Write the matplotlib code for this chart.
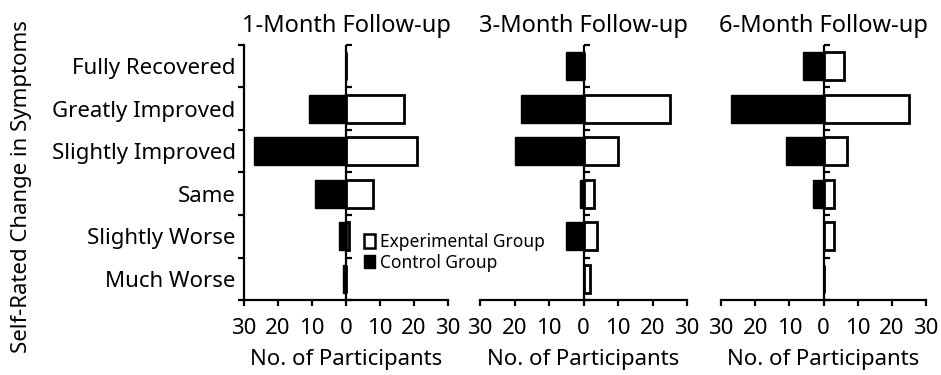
import numpy as np
import matplotlib.pyplot as plt
from matplotlib.patches import Patch

plt.rcParams['font.family'] = ['Noto Sans', 'DejaVu Sans']

# Response categories (top to bottom)
categories = ['Fully Recovered', 'Greatly Improved', 'Slightly Improved',
              'Same', 'Slightly Worse', 'Much Worse']
panels = ['1-Month Follow-up', '3-Month Follow-up', '6-Month Follow-up']

# Participant counts per category
experimental_1m = [0, 17, 21, 8, 1, 0]
control_1m = [0, 11, 27, 9, 2, 1]
experimental_3m = [0, 25, 10, 3, 4, 2]
control_3m = [5, 18, 20, 1, 5, 0]
experimental_6m = [6, 25, 7, 3, 3, 0]
control_6m = [6, 27, 11, 3, 0, 0]

experimental = [experimental_1m, experimental_3m, experimental_6m]
control = [control_1m, control_3m, control_6m]

xticks = [-30, -20, -10, 0, 10, 20, 30]

fig = plt.figure(figsize=(9.41, 3.75), dpi=100)
lefts = [244, 480, 721]
widths = [204, 207, 205]
y = np.arange(len(categories))
bounds = np.arange(-0.5, 6, 1.0)
lw = 1.6

for k in range(3):
    ax = fig.add_axes([lefts[k] / 941, 75 / 375, widths[k] / 941, 255 / 375])
    ax.barh(y, [-v for v in control[k]], height=0.66, color='black',
            edgecolor='black', linewidth=1.0)
    ax.barh(y, experimental[k], height=0.66, color='white',
            edgecolor='black', linewidth=2)

    ax.set_xlim(-30, 30)
    ax.set_ylim(5.5, -0.5)
    ax.set_xticks(xticks)
    ax.set_xticklabels([str(abs(t)) for t in xticks])
    ax.tick_params(axis='x', direction='out', length=4, width=lw,
                   labelsize=16, pad=9)

    for s in ['top', 'right']:
        ax.spines[s].set_visible(False)
    ax.spines['bottom'].set_linewidth(lw)
    ax.spines['left'].set_linewidth(lw)

    # boundary ticks on the outer left axis, category names between them
    ax.set_yticks(bounds)
    ax.set_yticklabels([])
    ax.tick_params(axis='y', which='major', direction='out', length=4,
                   width=lw)
    if k == 0:
        ax.set_yticks(y, labels=categories, minor=True)
        ax.tick_params(axis='y', which='minor', length=0, labelsize=16,
                       pad=6)
    else:
        ax.spines['left'].set_visible(False)
        ax.tick_params(axis='y', which='major', length=0)

    # center axis through zero
    ax.axvline(0, color='black', linewidth=lw, zorder=3)
    mid = ax.secondary_yaxis(0.5)
    for sp in mid.spines.values():
        sp.set_visible(False)
    mid.set_yticks(bounds)
    mid.set_yticklabels([])
    mid.tick_params(direction='out', length=4, width=lw)

    ax.set_title(panels[k], fontsize=17, pad=9)
    ax.set_xlabel('No. of Participants', fontsize=16, labelpad=7)

fig.text(0.023, 0.503, 'Self-Rated Change in Symptoms', rotation=90,
         ha='center', va='center', fontsize=16)

handles = [Patch(facecolor='white', edgecolor='black', linewidth=1.8,
                 label='Experimental Group'),
           Patch(facecolor='black', edgecolor='black', label='Control Group')]
fig.legend(handles=handles, loc='upper left', bbox_to_anchor=(0.378, 0.402),
           frameon=False, fontsize=12.5, handlelength=0.6, handleheight=0.8,
           handletextpad=0.3, labelspacing=0.15, borderpad=0)

fig.savefig('out.png', dpi=100)
